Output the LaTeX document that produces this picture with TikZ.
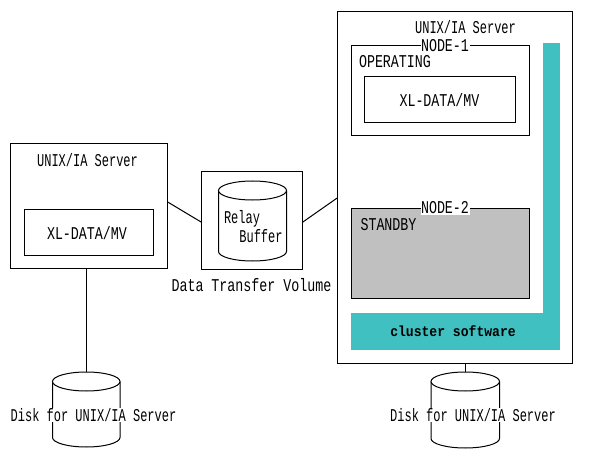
\documentclass[tikz,border=0pt]{standalone}
\usepackage{fontspec}
\usepackage{graphicx}
\setmonofont{Liberation Mono}
\definecolor{teal1}{HTML}{40C0C0}
\definecolor{gray1}{HTML}{C0C0C0}
\newcommand{\bmtext}[1]{\scalebox{1}[1.35]{\fontsize{13.33}{15}\ttfamily #1}}
\newcommand{\bmnarrow}[1]{\scalebox{0.9}[1.35]{\fontsize{13.33}{15}\ttfamily #1}}
\newcommand{\bmbold}[1]{\scalebox{0.98}[1.1]{\fontsize{13.33}{15}\ttfamily\bfseries #1}}
\tikzset{
  boxn/.style={draw=black,line width=1pt,fill=white,inner sep=0pt,outer sep=0pt,anchor=north west},
  grayn/.style={boxn,fill=gray1},
  lbl/.style={inner sep=0pt,font=\fontsize{13.33}{15}\ttfamily},
  lblw/.style={lbl,fill=white,inner xsep=0.5pt,inner ysep=0.5pt},
  wire/.style={draw=black,line width=1pt},
  drumn/.style={inner sep=0pt,outer sep=0pt,anchor=north west}
}
\newcommand{\drum}[6]{% name, left, right, top, cap height, bottom
  \node[drumn,minimum width={#3pt-#2pt},minimum height={#6pt-#4pt}] (#1) at (#2,#4) {};
  \pgfmathsetmacro{\rx}{(#3-#2)/2}
  \pgfmathsetmacro{\ry}{#5/2}
  \pgfmathsetmacro{\cx}{(#3+#2)/2}
  \pgfmathsetmacro{\ct}{#4+\ry}
  \pgfmathsetmacro{\cb}{#6-\ry}
  \draw[line width=1pt,fill=white] (#2,\ct) -- (#2,\cb) arc[start angle=180,end angle=360,x radius=\rx pt,y radius=\ry pt] -- (#3,\ct);
  \draw[line width=1pt,fill=white] (\cx,\ct) ellipse[x radius=\rx pt,y radius=\ry pt];
}
\begin{document}
\begin{tikzpicture}[x=1pt,y=-1pt]
\useasboundingbox (0,0) rectangle (590,460);
% left server
\node[boxn,minimum width=157pt,minimum height=125pt] (srvL) at (10.5,143.5) {};
\node[boxn,minimum width=129pt,minimum height=46pt] (dataL) at (24.5,209.5) {};
\node[lbl] (titleL) at (87.5,160) {\bmnarrow{UNIX/IA Server}};
\node[lbl] (xlL) at (87,233) {\bmtext{XL-DATA/MV}};
% relay
\node[boxn,minimum width=101pt,minimum height=98pt] (relay) at (201.5,171.5) {};
\drum{drumR}{218.5}{286.5}{181}{19}{261}
\node[lbl] (relayT) at (242,219) {\bmnarrow{Relay}};
\node[lbl] (bufferT) at (261,236) {\bmnarrow{Buffer}};
\node[lbl] (dtv) at (251.5,285) {\bmtext{Data Transfer Volume}};
% right server
\node[boxn,minimum width=235pt,minimum height=352pt] (srvR) at (337.5,11.5) {};
\node[lbl] (titleR) at (465.5,27) {\bmnarrow{UNIX/IA Server}};
\fill[teal1] (543,43) rectangle (560,350);
\fill[teal1] (351,313) rectangle (560,350);
\node[lbl] (cluster) at (453,331) {\bmbold{cluster software}};
\node[boxn,minimum width=178pt,minimum height=90pt] (node1) at (351.5,45.5) {};
\node[lblw] (node1T) at (445,46) {\bmtext{NODE-1}};
\node[lbl] (oper) at (395,62) {\bmtext{OPERATING}};
\node[boxn,minimum width=151pt,minimum height=46pt] (dataR) at (364.5,76.5) {};
\node[lbl] (xlR) at (439.5,100) {\bmtext{XL-DATA/MV}};
\node[grayn,minimum width=178pt,minimum height=90pt] (node2) at (351.5,208.5) {};
\node[lblw] (node2T) at (445,208) {\bmtext{NODE-2}};
\node[lbl] (stby) at (388.5,225) {\bmtext{STANDBY}};
% disks
\drum{diskL}{52.5}{120}{372}{19}{447}
\drum{diskR}{431}{499.5}{372}{19}{448}
\node[lblw] (diskLT) at (93.5,415) {\bmnarrow{Disk for UNIX/IA Server}};
\node[lblw] (diskRT) at (473,415) {\bmnarrow{Disk for UNIX/IA Server}};
% connectors
\draw[wire] (srvL.3.46) -- (relay.182.3);
\draw[wire] (relay.-2.3) -- (srvR.185.1);
\draw[wire] (diskL.north |- srvL.south) -- (diskL.north);
\draw[wire] (diskR.north |- srvR.south) -- (diskR.north);
\end{tikzpicture}
\end{document}
